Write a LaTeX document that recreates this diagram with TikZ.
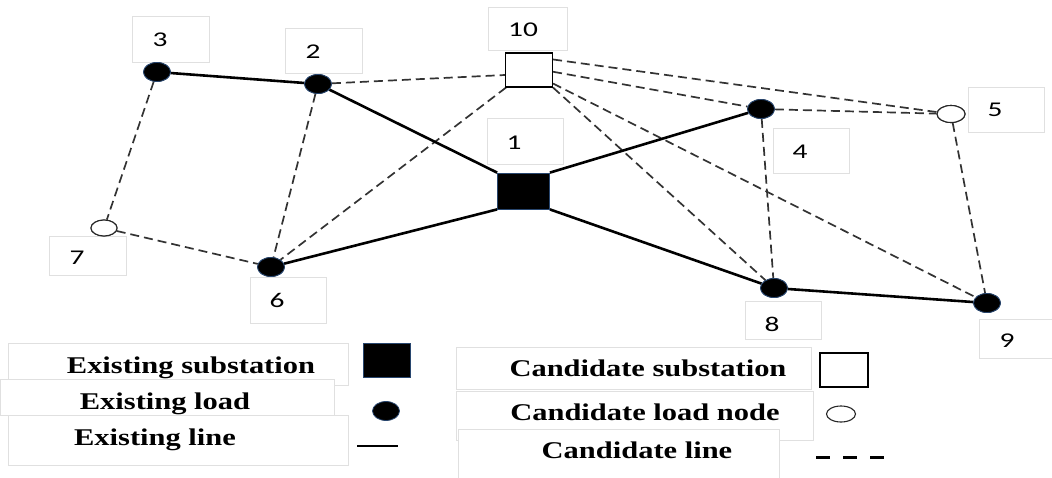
\documentclass[tikz,border=0pt]{standalone}
\usepackage{fontspec}
\setmainfont{Liberation Serif}
\newfontfamily\numfont{Carlito}
\usetikzlibrary{shapes.geometric,calc}
\definecolor{loadedge}{RGB}{40,70,110}
\begin{document}
\begin{tikzpicture}[x=1pt,y=-1pt,
  lbox/.style={draw=black!12, line width=1pt, fill=white, inner sep=0pt, anchor=north west},
  ltext/.style={font=\numfont\fontsize{21}{21}\selectfont, text=black, inner sep=0pt},
  load/.style={ellipse, fill=black, draw=loadedge, line width=0.8pt, minimum width=27pt, minimum height=19pt, inner sep=0pt},
  cload/.style={ellipse, fill=white, draw=black!85, line width=1.1pt, minimum width=28pt, minimum height=17pt, inner sep=0pt},
  esub/.style={rectangle, fill=black, draw=loadedge, line width=0.8pt, minimum width=52pt, minimum height=36pt, inner sep=0pt},
  csub/.style={rectangle, fill=white, draw=black, line width=1.1pt, minimum width=47pt, minimum height=34pt, inner sep=0pt},
  eline/.style={line width=2.6pt, black},
  cline/.style={line width=1.7pt, black!80, dash pattern=on 9pt off 5pt},
  legtext/.style={font=\bfseries\fontsize{24}{24}\selectfont, anchor=base, inner sep=0pt}
]
\useasboundingbox (0,0) rectangle (1052,477);
\clip (0,0) rectangle (1052,477);

% label boxes
\node[lbox, minimum width=77pt, minimum height=46pt] (b3) at (132,16) {};
\node[lbox, minimum width=77pt, minimum height=45pt] (b2) at (285,28) {};
\node[lbox, minimum width=79pt, minimum height=43pt] (b10) at (488,7) {};
\node[lbox, minimum width=76pt, minimum height=46pt] (b1) at (487,118) {};
\node[lbox, minimum width=76pt, minimum height=45pt] (b4) at (773,128) {};
\node[lbox, minimum width=76pt, minimum height=45pt] (b5) at (968,87) {};
\node[lbox, minimum width=77pt, minimum height=39pt] (b7) at (49,236) {};
\node[lbox, minimum width=76pt, minimum height=46pt] (b6) at (250,277) {};
\node[lbox, minimum width=76pt, minimum height=38pt] (b8) at (745,301) {};
\node[lbox, minimum width=80pt, minimum height=39pt] (b9) at (979,319) {};

\node[ltext] (t3) at (160,40) {\scalebox{1.4}[1]{3}};
\node[ltext] (t2) at (313,52) {\scalebox{1.4}[1]{2}};
\node[ltext] (t10) at (523,30) {\scalebox{1.4}[1]{10}};
\node[ltext] (t1) at (514,143) {\scalebox{1.4}[1]{1}};
\node[ltext] (t4) at (800,152) {\scalebox{1.4}[1]{4}};
\node[ltext] (t5) at (995,110) {\scalebox{1.4}[1]{5}};
\node[ltext] (t7) at (77,258) {\scalebox{1.4}[1]{7}};
\node[ltext] (t6) at (277,300) {\scalebox{1.4}[1]{6}};
\node[ltext] (t8) at (772,324) {\scalebox{1.4}[1]{8}};
\node[ltext] (t9) at (1007,341) {\scalebox{1.4}[1]{9}};

% network nodes
\node[load] (n3) at (157,72) {};
\node[load] (n2) at (318,84) {};
\node[csub] (n10) at (529,70) {};
\node[esub] (n1) at (523.5,191) {};
\node[load] (n4) at (761,109) {};
\node[cload] (n5) at (951,114) {};
\node[cload, minimum width=26pt, minimum height=16pt] (n7) at (104,228) {};
\node[load] (n6) at (271,267) {};
\node[load] (n8) at (774,288) {};
\node[load] (n9) at (987,303) {};

% candidate lines
\draw[cline] (n3) -- (n7);
\draw[cline] (n7) -- (n6);
\draw[cline] (n2) -- (n6);
\draw[cline] (n2) -- ($(n10.west)+(0,5)$);
\draw[cline] (n10) -- (n6);
\draw[cline] ($(n10.north east)!0.2!(n10.south east)$) -- (n5);
\draw[cline] ($(n10.north east)!0.55!(n10.south east)$) -- (n4);
\draw[cline] (n10.south east) -- (n8);
\draw[cline] ($(n10.south east)+(0,-4)$) -- (n9);
\draw[cline] (n4) -- (n5);
\draw[cline] (n4) -- (n8);
\draw[cline] (n5) -- (n9);

% existing lines
\draw[eline] (n3) -- (n2);
\draw[eline] (n2) -- (n1.north west);
\draw[eline] (n1.north east) -- (n4);
\draw[eline] (n1.south west) -- (n6);
\draw[eline] (n1.south east) -- (n8);
\draw[eline] (n8) -- (n9);

% redraw nodes on top
\node[load] at (n3) {};
\node[load] at (n2) {};
\node[csub] at (n10) {};
\node[esub] at (n1) {};
\node[load] at (n4) {};
\node[cload] at (n5) {};
\node[cload, minimum width=26pt, minimum height=16pt] at (n7) {};
\node[load] at (n6) {};
\node[load] at (n8) {};
\node[load] at (n9) {};

% legend left
\node[lbox, minimum width=340pt, minimum height=42pt] (la) at (8,343) {};
\node[lbox, minimum width=334pt, minimum height=36pt] (lb) at (0,379) {};
\node[lbox, minimum width=340pt, minimum height=50pt] (lc) at (8,415) {};
\node[legtext] (lta) at (191,373) {\scalebox{1.27}[1]{Existing substation}};
\node[legtext] (ltb) at (165,409) {\scalebox{1.27}[1]{Existing load}};
\node[legtext] (ltc) at (155,445) {\scalebox{1.27}[1]{Existing line}};
\node[esub, minimum width=47pt, minimum height=34pt] (lesub) at (386.5,360) {};
\node[load] (lload) at (386,411) {};
\coordinate (lel1) at (357,446);
\coordinate (lel2) at (398,446);
\draw[line width=2.8pt, black] (lel1) -- (lel2);

% legend right
\node[lbox, minimum width=355pt, minimum height=42pt] (ra) at (456,347) {};
\node[lbox, minimum width=357pt, minimum height=49pt] (rb) at (456,391) {};
\node[lbox, minimum width=321pt, minimum height=52pt] (rc) at (458,429) {};
\node[legtext] (rta) at (648,376) {\scalebox{1.27}[1]{Candidate substation}};
\node[legtext] (rtb) at (645,420) {\scalebox{1.27}[1]{Candidate load node}};
\node[legtext] (rtc) at (637,458) {\scalebox{1.27}[1]{Candidate line}};
\node[csub, minimum width=48pt, minimum height=34pt] (rcsub) at (844,370) {};
\node[cload, minimum width=29pt, minimum height=16pt] (rcload) at (841,414) {};
\coordinate (rcl1) at (816,457);
\coordinate (rcl2) at (885,457);
\draw[line width=3pt, black, dash pattern=on 14pt off 13pt] (rcl1) -- (rcl2);
\end{tikzpicture}
\end{document}
